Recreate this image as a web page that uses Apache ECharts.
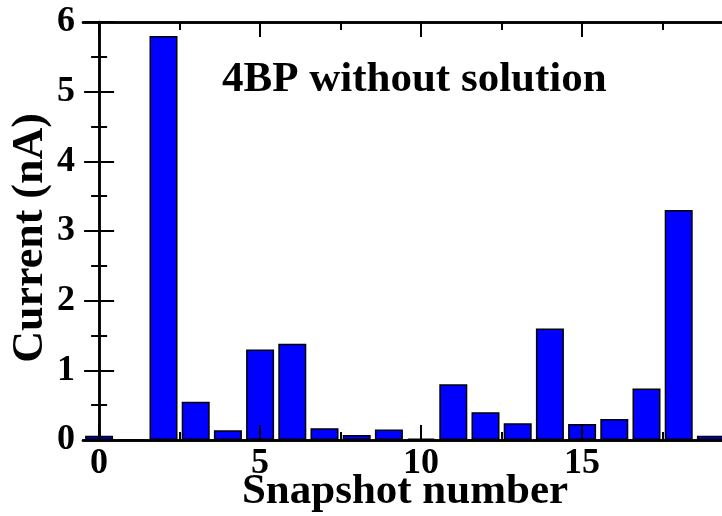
<!DOCTYPE html>
<html>
<head>
<meta charset="utf-8">
<script src="https://cdn.jsdelivr.net/npm/echarts@6/dist/echarts.min.js"></script>
<style>
  html, body { margin: 0; padding: 0; background: #fff; }
  #chart { width: 722px; height: 516px; }
</style>
</head>
<body>
<div id="chart"></div>
<script>
// Tunnelling current for each MD snapshot
const snapshots = [0, 1, 2, 3, 4, 5, 6, 7, 8, 9, 10, 11, 12, 13, 14, 15, 16, 17, 18, 19];
const currentNA = [0.06, 0, 5.8, 0.55, 0.14, 1.3, 1.38, 0.17, 0.07, 0.15, 0.02, 0.8, 0.4, 0.24, 1.6, 0.23, 0.3, 0.74, 3.3, 0.06];

const xMajorTicks = [0, 5, 10, 15];
const xMinorTicks = [2.5, 7.5, 12.5, 17.5];

const FONT = '"Liberation Serif", "Times New Roman", serif';
const black = '#000';

const chart = echarts.init(document.getElementById('chart'), null, { renderer: 'canvas' });

function xAxisBase(position, ticks, len, showLabel) {
  return {
    type: 'value',
    position: position,
    min: -0.5,
    max: 19.5,
    z: 10,
    axisLine: { show: true, onZero: false, lineStyle: { color: black, width: 2.5 } },
    axisTick: { show: true, inside: true, length: len, customValues: ticks, lineStyle: { color: black, width: 2 } },
    axisLabel: {
      show: showLabel,
      customValues: ticks,
      color: black,
      fontFamily: FONT,
      fontWeight: 'bold',
      fontSize: 36,
      margin: 6
    },
    splitLine: { show: false }
  };
}

const xAxes = [
  Object.assign(xAxisBase('bottom', xMajorTicks, 15, true), {
    name: 'Snapshot number',
    nameLocation: 'middle',
    nameGap: 30,
    nameMoveOverlap: false,
    nameTextStyle: { color: black, fontFamily: FONT, fontWeight: 'bold', fontSize: 43 }
  }),
  xAxisBase('bottom', xMinorTicks, 8, false),
  xAxisBase('top', xMajorTicks, 15, false),
  xAxisBase('top', xMinorTicks, 8, false)
];

function yAxisBase(position, showLabel) {
  return {
    type: 'value',
    position: position,
    min: 0,
    max: 6,
    interval: 1,
    z: 10,
    axisLine: { show: true, lineStyle: { color: black, width: 2.5 } },
    axisTick: { show: true, inside: true, length: 15, lineStyle: { color: black, width: 2 } },
    minorTick: { show: true, splitNumber: 2, length: 8, lineStyle: { color: black, width: 2 } },
    axisLabel: {
      show: showLabel,
      color: black,
      fontFamily: FONT,
      fontWeight: 'bold',
      fontSize: 36,
      margin: 8,
      padding: [6, 0, 0, 0]
    },
    splitLine: { show: false }
  };
}

const yAxes = [
  Object.assign(yAxisBase('left', true), {
    name: 'Current (nA)',
    nameLocation: 'middle',
    nameGap: 30,
    nameMoveOverlap: false,
    nameTextStyle: { color: black, fontFamily: FONT, fontWeight: 'bold', fontSize: 44, padding: [0, 14, 0, 0] }
  }),
  yAxisBase('right', false)
];

chart.setOption({
  animation: false,
  backgroundColor: '#fff',
  title: {
    text: '4BP without solution',
    left: 222,
    top: 58,
    padding: 0,
    textStyle: { color: black, fontFamily: FONT, fontWeight: 'bold', fontSize: 43 }
  },
  grid: { left: 83, right: -5, top: 22, bottom: 76, containLabel: false, outerBoundsMode: 'none' },
  xAxis: xAxes,
  yAxis: yAxes,
  series: [{
    type: 'bar',
    xAxisIndex: 0,
    yAxisIndex: 0,
    barWidth: 28,
    data: snapshots.map((s, i) => [s, currentNA[i]]),
    itemStyle: { color: '#0000ff', borderColor: black, borderWidth: 1.5 }
  }]
});
</script>
</body>
</html>
